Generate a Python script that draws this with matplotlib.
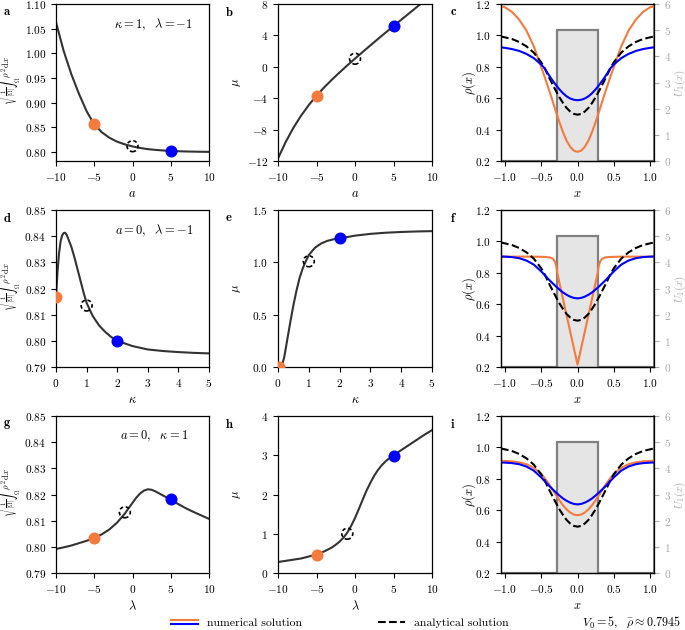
import numpy as np
import matplotlib
matplotlib.use("Agg")
import matplotlib.pyplot as plt
from matplotlib.lines import Line2D

plt.rcParams.update({
    "font.family": "serif",
    "font.serif": ["cmr10"],
    "mathtext.fontset": "cm",
    "axes.formatter.use_mathtext": True,
    "font.size": 9,
    "xtick.labelsize": 8.2,
    "ytick.labelsize": 8.2,
    "axes.linewidth": 0.9,
    "xtick.major.size": 3.5,
    "ytick.major.size": 3.5,
})

ORANGE = "#f47b3d"
BLUE = "#0000ff"
CURVE = "#333333"
GREY = "#808080"
LIGHT = "#aaaaaa"

# ---- parameter scans (left and middle columns) ----
a_vals = [-10, -9, -8, -7, -6, -5, -4, -3, -2, -1, 0, 1, 2, 3, 4, 5, 6, 7, 8, 9, 10]
norm_a = [1.063, 1.005, 0.958, 0.918, 0.883, 0.856, 0.840, 0.829, 0.821, 0.8157, 0.8115,
          0.8084, 0.806, 0.8045, 0.8033, 0.8024, 0.8018, 0.8013, 0.801, 0.8007, 0.8005]
mu_a = [-11.67, -9.57, -7.77, -6.22, -4.87, -3.67, -2.62, -1.64, -0.71, 0.18, 1.04,
        1.89, 2.73, 3.56, 4.38, 5.19, 5.99, 6.79, 7.59, 8.38, 9.17]

kappa_norm = [0, 0.05, 0.1, 0.15, 0.2, 0.25, 0.3, 0.35, 0.4, 0.5, 0.6, 0.7, 0.8, 0.9, 1.0,
              1.2, 1.4, 1.6, 1.8, 2.0, 2.5, 3.0, 3.5, 4.0, 4.5, 5.0]
norm_kappa = [0.8167, 0.8265, 0.8335, 0.838, 0.8403, 0.8412, 0.8413, 0.8405, 0.839, 0.836,
              0.832, 0.8275, 0.823, 0.8185, 0.8145, 0.8095, 0.806, 0.8035, 0.8015, 0.800,
              0.798, 0.7967, 0.7961, 0.7957, 0.7954, 0.7952]
kappa_mu = [0.05, 0.1, 0.15, 0.2, 0.3, 0.4, 0.5, 0.6, 0.7, 0.8, 0.9, 1.0, 1.2, 1.4, 1.6,
            1.8, 2.0, 2.5, 3.0, 3.5, 4.0, 4.5, 5.0]
mu_kappa = [0.0, 0.015, 0.04, 0.09, 0.26, 0.43, 0.59, 0.73, 0.85, 0.94, 1.01, 1.07, 1.14,
            1.18, 1.205, 1.22, 1.228, 1.255, 1.272, 1.283, 1.29, 1.295, 1.298]

lam_norm = [-10, -9, -8, -7, -6, -5, -4, -3, -2, -1, -0.5, 0, 0.5, 1, 1.5, 2, 2.5, 3, 3.5,
            4, 5, 6, 7, 8, 9, 10]
norm_lam = [0.7992, 0.7998, 0.8005, 0.8014, 0.8023, 0.8034, 0.8048, 0.8067, 0.8093, 0.8127,
            0.8148, 0.8168, 0.8188, 0.8204, 0.8215, 0.822, 0.8218, 0.8212, 0.8204, 0.8196,
            0.818, 0.8163, 0.8147, 0.8133, 0.812, 0.8107]
lam_mu = [-10, -9, -8, -7, -6, -5, -4, -3, -2.5, -2, -1.5, -1, -0.5, 0, 0.5, 1, 1.5, 2,
          2.5, 3, 3.5, 4, 4.5, 5, 6, 7, 8, 9, 10]
mu_lam = [0.28, 0.31, 0.34, 0.37, 0.42, 0.47, 0.55, 0.65, 0.72, 0.80, 0.90, 1.03, 1.20,
          1.40, 1.63, 1.87, 2.10, 2.30, 2.48, 2.63, 2.75, 2.85, 2.93, 3.0, 3.13, 3.26,
          3.39, 3.52, 3.64]

# highlighted points: (orange, analytical, blue)
pts_a_norm = [(-5, 0.856), (0, 0.812), (5, 0.8025)]
pts_a_mu = [(-5, -3.67), (0, 1.03), (5, 5.18)]
pts_k_norm = [(0, 0.8167), (1, 0.8135), (2, 0.800)]
pts_k_mu = [(0.03, 0.0), (1, 1.01), (2, 1.228)]
pts_l_norm = [(-5, 0.8034), (-1, 0.8132), (5, 0.8181)]
pts_l_mu = [(-5, 0.47), (-1, 1.0), (5, 2.99)]

# ---- density profiles (symmetric in x, values read for x >= 0) ----
x_half = [0, 0.05, 0.1, 0.15, 0.2, 0.25, 0.3, 0.35, 0.4, 0.45, 0.5, 0.6, 0.7, 0.8, 0.9, 1.0, 1.05]
rho_exact = [0.495, 0.50, 0.515, 0.538, 0.57, 0.607, 0.65, 0.695, 0.74, 0.79, 0.83, 0.89,
             0.93, 0.958, 0.977, 0.988, 0.993]
rho_c_orange = [0.258, 0.266, 0.29, 0.33, 0.385, 0.45, 0.52, 0.595, 0.665, 0.735, 0.80,
                0.93, 1.03, 1.10, 1.15, 1.18, 1.185]
rho_c_blue = [0.587, 0.590, 0.598, 0.612, 0.632, 0.657, 0.686, 0.718, 0.752, 0.79, 0.815,
              0.855, 0.882, 0.901, 0.913, 0.921, 0.924]
x_half_f = [0, 0.05, 0.1, 0.15, 0.2, 0.25, 0.275, 0.29, 0.31, 0.34, 0.38, 0.45, 0.6, 1.05]
rho_f_orange = [0.215, 0.32, 0.425, 0.53, 0.635, 0.74, 0.795, 0.84, 0.872, 0.89, 0.898,
                0.901, 0.903, 0.903]
rho_f_blue = [0.637, 0.64, 0.648, 0.66, 0.675, 0.694, 0.715, 0.737, 0.76, 0.785, 0.81,
              0.852, 0.878, 0.893, 0.90, 0.903, 0.904]
rho_i_orange = [0.568, 0.572, 0.585, 0.605, 0.632, 0.664, 0.70, 0.737, 0.772, 0.804, 0.832,
                0.870, 0.893, 0.905, 0.911, 0.914, 0.915]
rho_i_blue = rho_f_blue

u_edges = [-1.05, -0.275, 0.275, 1.05]
u_vals = [0, 5, 0]


def full(xh, yh):
    xh, yh = np.asarray(xh), np.asarray(yh)
    return np.concatenate([-xh[::-1], xh[1:]]), np.concatenate([yh[::-1], yh[1:]])


W, H = 685, 630
fig = plt.figure(figsize=(W / 100, H / 100), dpi=100)


def px_axes(left, top, w, h):
    return fig.add_axes([left / W, 1 - (top + h) / H, w / W, h / H])


lefts = [56, 278, 501]
widths = [153, 154, 153]
tops = [4, 210, 416]
hgt = 157
letters = "abcdefghi"


def scan_panel(ax, x, y, pts, xlim, ylim, yticks, xlabel):
    ax.plot(x, y, color=CURVE, lw=1.5, zorder=2)
    (xo, yo), (xd, yd), (xb, yb) = pts
    ax.scatter([xo], [yo], s=75, color=ORANGE, zorder=3, linewidths=0)
    ax.scatter([xb], [yb], s=75, color=BLUE, zorder=3, linewidths=0)
    ax.scatter([xd], [yd], s=62, facecolors="none", edgecolors="k",
               linestyles=(0, (2.2, 1.6)), linewidths=1.2, zorder=3)
    ax.set_xlim(*xlim)
    ax.set_ylim(*ylim)
    ax.set_yticks(yticks)
    ax.set_xlabel(xlabel)


norm_label = r"$\sqrt{\frac{1}{|\Omega|}\int_\Omega\,\rho^2\,\mathrm{d}x}$"
xr = [r"$a$", r"$\kappa$", r"$\lambda$"]
scans = [
    (a_vals, norm_a, pts_a_norm, (0.782, 1.10), [0.80, 0.85, 0.90, 0.95, 1.00, 1.05, 1.10],
     a_vals, mu_a, pts_a_mu, (-12, 8), [-12, -8, -4, 0, 4, 8], [-10, -5, 0, 5, 10]),
    (kappa_norm, norm_kappa, pts_k_norm, (0.79, 0.85), [0.79, 0.80, 0.81, 0.82, 0.83, 0.84, 0.85],
     kappa_mu, mu_kappa, pts_k_mu, (0, 1.5), [0.0, 0.5, 1.0, 1.5], [0, 1, 2, 3, 4, 5]),
    (lam_norm, norm_lam, pts_l_norm, (0.79, 0.85), [0.79, 0.80, 0.81, 0.82, 0.83, 0.84, 0.85],
     lam_mu, mu_lam, pts_l_mu, (0, 4), [0, 1, 2, 3, 4], [-10, -5, 0, 5, 10]),
]
notes = [r"$\kappa = 1,\ \ \lambda = -1$", r"$a = 0,\ \ \lambda = -1$", r"$a = 0,\ \ \kappa = 1$"]
profiles = [
    (full(x_half, rho_c_orange), full(x_half, rho_c_blue)),
    (full(x_half_f, rho_f_orange), full(x_half, rho_f_blue)),
    (full(x_half, rho_i_orange), full(x_half, rho_i_blue)),
]
xe, ye = full(x_half, rho_exact)

for r in range(3):
    (x1, y1, p1, yl1, yt1, x2, y2, p2, yl2, yt2, xt) = scans[r]
    ax1 = px_axes(lefts[0], tops[r], widths[0], hgt)
    scan_panel(ax1, x1, y1, p1, (xt[0], xt[-1]), yl1, yt1, xr[r])
    ax1.set_xticks(xt)
    ax1.set_ylabel(norm_label, fontsize=6.3)
    ax1.yaxis.set_label_coords(-0.2, 0.52)
    ax1.text(0.64, 0.87, notes[r], transform=ax1.transAxes, ha="center", va="center")

    ax2 = px_axes(lefts[1], tops[r], widths[1], hgt)
    scan_panel(ax2, x2, y2, p2, (xt[0], xt[-1]), yl2, yt2, xr[r])
    ax2.set_xticks(xt)
    ax2.set_ylabel(r"$\mu$")
    ax2.yaxis.set_label_coords(-0.225, 0.5)

    ax3 = px_axes(lefts[2], tops[r], widths[2], hgt)
    tw = ax3.twinx()
    tw.stairs(u_vals, u_edges, fill=True, color="#e5e5e5", zorder=1)
    tw.stairs(u_vals, u_edges, color=GREY, lw=1.6, zorder=2)
    tw.set_ylim(0, 6)
    tw.set_yticks([0, 1, 2, 3, 4, 5, 6])
    tw.tick_params(axis="y", colors=LIGHT)
    tw.set_ylabel(r"$U_1(x)$", color=LIGHT, fontsize=8)
    tw.yaxis.set_label_coords(1.12, 0.5)
    tw.spines["right"].set_color(GREY)
    tw.spines["right"].set_linewidth(1.4)
    tw.spines["top"].set_color(GREY)
    ax3.set_zorder(tw.get_zorder() + 1)
    ax3.patch.set_visible(False)
    (xo, yo), (xb, yb) = profiles[r]
    ax3.plot(xo, yo, color=ORANGE, lw=1.5)
    ax3.plot(xe, ye, color="k", lw=1.5, ls="--")
    ax3.plot(xb, yb, color=BLUE, lw=1.5)
    ax3.set_xlim(-1.05, 1.05)
    ax3.set_ylim(0.2, 1.2)
    ax3.set_xticks([-1.0, -0.5, 0.0, 0.5, 1.0])
    ax3.set_yticks([0.2, 0.4, 0.6, 0.8, 1.0, 1.2])
    ax3.set_xlabel(r"$x$")
    ax3.set_ylabel(r"$\rho(x)$")
    ax3.yaxis.set_label_coords(-0.15, 0.5)

    for c, ax in enumerate([ax1, ax2, ax3]):
        fig.text((lefts[c] - 53 + (2 if c == 2 else 0)) / W, 1 - (tops[r] + 2) / H,
                 r"$\mathbf{%s}$" % letters[3 * r + c], ha="left", va="top", fontsize=9)


class TwoLineHandler:
    def legend_artist(self, legend, orig_handle, fontsize, handlebox):
        x0, y0 = handlebox.xdescent, handlebox.ydescent
        w, h = handlebox.width, handlebox.height
        ln = None
        for i, c in enumerate([ORANGE, BLUE]):
            ln = Line2D([x0, x0 + w], [y0 + h / 2 + 1.3 - 2.6 * i] * 2, color=c, lw=1.5)
            handlebox.add_artist(ln)
        return ln


num_handle = Line2D([], [], color=ORANGE)
ana_handle = Line2D([], [], color="k", ls="--", lw=1.5)
fig.legend([num_handle, ana_handle], ["numerical solution", "analytical solution"],
           handler_map={num_handle: TwoLineHandler()}, ncol=2, frameon=False,
           loc="center left", bbox_to_anchor=(171 / W, 1 - 623 / H), borderpad=0,
           borderaxespad=0, handlelength=2.3, handletextpad=0.75, columnspacing=6.4,
           fontsize=8.5)
fig.text(681 / W, 1 - 622 / H, r"$V_0 = 5,\ \ \bar{\rho} \approx 0.7945$", ha="right",
         va="center", fontsize=8.7)

fig.savefig("out.png", dpi=100)
